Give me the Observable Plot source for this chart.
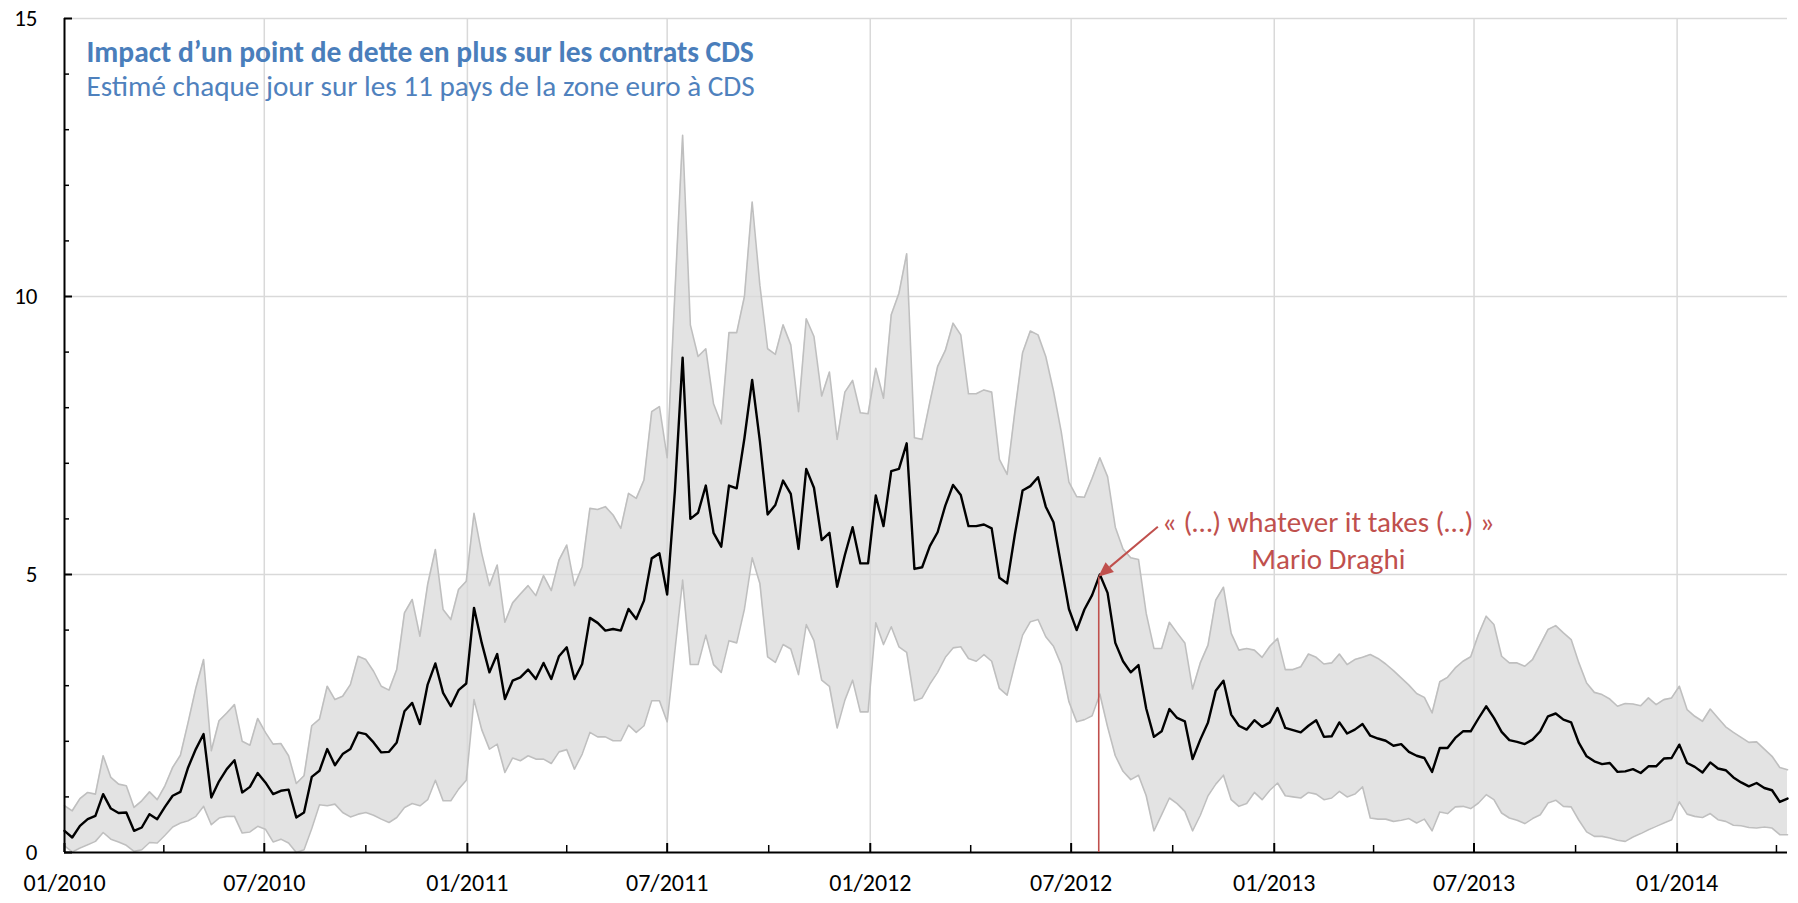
<!DOCTYPE html>
<html><head><meta charset="utf-8">
<script src="https://cdn.jsdelivr.net/npm/d3@7"></script>
<script src="https://cdn.jsdelivr.net/npm/@observablehq/plot@0.6"></script>
<style>body{margin:0;background:#fff}#chart svg{display:block}</style>
</head><body><div id="chart"></div>
<script>
// Weekly observations starting on this date (one value every 7 days)
const firstWeek = "2010-01-01";
const median = [0.39,0.27,0.48,0.60,0.66,1.05,0.79,0.71,0.72,0.39,0.45,0.69,0.60,0.82,1.02,1.09,1.53,1.86,2.13,0.99,
1.28,1.50,1.66,1.08,1.18,1.43,1.26,1.05,1.11,1.13,0.63,0.72,1.36,1.47,1.86,1.57,1.77,1.86,2.16,2.13,
1.98,1.80,1.81,1.98,2.54,2.69,2.31,3.02,3.40,2.87,2.63,2.92,3.04,4.40,3.77,3.24,3.57,2.76,3.09,3.15,
3.29,3.12,3.41,3.12,3.53,3.69,3.12,3.39,4.22,4.13,3.99,4.02,3.99,4.38,4.20,4.53,5.29,5.38,4.64,6.50,
8.90,6.00,6.11,6.60,5.75,5.50,6.60,6.55,7.45,8.50,7.40,6.08,6.25,6.69,6.45,5.46,6.90,6.56,5.62,5.75,
4.78,5.35,5.85,5.20,5.20,6.42,5.87,6.86,6.90,7.36,5.10,5.13,5.51,5.76,6.24,6.61,6.43,5.87,5.87,5.90,
5.83,4.94,4.84,5.72,6.51,6.59,6.75,6.22,5.94,5.16,4.38,4.00,4.37,4.63,5.00,4.67,3.77,3.44,3.24,3.37,
2.59,2.08,2.18,2.58,2.42,2.36,1.68,2.03,2.34,2.91,3.09,2.48,2.28,2.21,2.38,2.26,2.34,2.60,2.24,2.20,
2.16,2.28,2.38,2.08,2.09,2.34,2.14,2.21,2.31,2.10,2.05,2.01,1.92,1.95,1.81,1.74,1.70,1.45,1.88,1.88,
2.06,2.18,2.18,2.41,2.63,2.42,2.17,2.02,1.99,1.95,2.03,2.18,2.45,2.50,2.39,2.34,1.97,1.73,1.64,1.59,
1.61,1.45,1.46,1.50,1.43,1.55,1.55,1.69,1.70,1.94,1.61,1.54,1.44,1.62,1.51,1.48,1.35,1.26,1.19,1.25,
1.16,1.12,0.91,0.97];
const upper = [0.84,0.75,0.97,1.08,1.05,1.74,1.35,1.23,1.20,0.81,0.93,1.09,0.95,1.20,1.53,1.75,2.34,2.96,3.47,1.83,
2.37,2.51,2.66,2.00,1.93,2.41,2.16,1.95,1.96,1.74,1.24,1.38,2.28,2.40,2.99,2.75,2.81,3.02,3.53,3.47,
3.26,2.99,2.92,3.29,4.31,4.55,3.89,4.82,5.45,4.37,4.19,4.73,4.88,6.10,5.38,4.80,5.17,4.14,4.49,4.65,
4.80,4.62,4.98,4.71,5.26,5.53,4.80,5.14,6.19,6.17,6.22,6.07,5.83,6.46,6.37,6.70,7.93,8.02,7.10,10.06,
12.90,9.49,8.92,9.06,8.07,7.71,9.35,9.35,10.00,11.70,10.20,9.06,8.96,9.49,9.13,7.93,9.60,9.28,8.21,8.64,
7.43,8.28,8.49,7.91,7.89,8.71,8.17,9.67,10.06,10.77,7.46,7.43,8.10,8.74,9.03,9.52,9.31,8.25,8.25,8.32,
8.28,7.07,6.80,7.93,8.99,9.38,9.31,8.92,8.30,7.57,6.66,6.40,6.39,6.73,7.10,6.76,5.85,5.46,5.30,5.27,
4.30,3.67,3.67,4.14,3.95,3.77,2.94,3.41,3.73,4.54,4.77,3.94,3.64,3.67,3.64,3.51,3.71,3.85,3.29,3.29,
3.34,3.57,3.51,3.39,3.41,3.57,3.38,3.47,3.51,3.56,3.49,3.39,3.27,3.14,3.01,2.86,2.79,2.51,3.07,3.15,
3.32,3.44,3.52,3.92,4.25,4.10,3.53,3.41,3.41,3.35,3.47,3.74,4.01,4.08,3.95,3.83,3.41,3.05,2.88,2.84,
2.76,2.63,2.68,2.67,2.64,2.78,2.66,2.75,2.78,2.99,2.57,2.45,2.36,2.58,2.42,2.26,2.16,2.07,1.98,1.99,
1.86,1.73,1.53,1.49];
const lower = [0.12,0.01,0.08,0.14,0.20,0.36,0.24,0.19,0.13,0.02,0.05,0.18,0.17,0.31,0.46,0.53,0.57,0.65,0.83,0.50,
0.62,0.65,0.65,0.35,0.37,0.47,0.42,0.19,0.24,0.17,0.00,0.05,0.43,0.86,0.84,0.87,0.72,0.64,0.69,0.72,
0.67,0.60,0.54,0.63,0.81,0.88,0.84,0.95,1.30,0.93,0.93,1.14,1.30,2.75,2.21,1.86,1.95,1.44,1.70,1.65,
1.74,1.68,1.68,1.60,1.81,1.85,1.50,1.77,2.16,2.08,2.08,2.01,2.01,2.29,2.16,2.28,2.73,2.73,2.35,3.63,
4.90,3.38,3.38,3.91,3.38,3.24,3.81,3.77,4.38,5.30,4.84,3.52,3.42,3.74,3.66,3.20,4.10,3.81,3.10,2.99,
2.24,2.74,3.10,2.53,2.53,4.13,3.74,4.06,3.70,3.60,2.73,2.78,3.03,3.24,3.51,3.68,3.70,3.49,3.44,3.56,
3.44,2.95,2.83,3.39,3.91,4.15,4.19,3.88,3.71,3.38,2.71,2.35,2.39,2.46,2.85,2.26,1.74,1.46,1.31,1.39,
1.02,0.39,0.68,0.98,0.88,0.74,0.39,0.67,1.02,1.23,1.39,0.95,0.83,0.88,1.08,0.95,1.12,1.25,1.02,1.00,
0.98,1.08,1.05,0.95,0.98,1.10,1.00,1.05,1.18,0.62,0.60,0.60,0.56,0.58,0.61,0.53,0.60,0.39,0.73,0.70,
0.82,0.83,0.79,0.89,1.04,0.95,0.71,0.62,0.58,0.52,0.61,0.68,0.89,0.94,0.83,0.82,0.58,0.37,0.29,0.29,
0.26,0.22,0.20,0.28,0.34,0.41,0.47,0.53,0.59,0.91,0.69,0.65,0.63,0.70,0.59,0.56,0.49,0.48,0.45,0.44,
0.46,0.44,0.32,0.32];

const xDomain = ["2010-01-01", "2014-04-11"];
const yDomain = [0, 15];
const xLabelTicks = ["2010-01-01","2010-07-01","2011-01-01","2011-07-01","2012-01-01","2012-07-01","2013-01-01","2013-07-01","2014-01-01"];
const xMinorTicks = ["2010-04-01","2010-10-01","2011-04-01","2011-10-01","2012-04-01","2012-10-01","2013-04-01","2013-10-01","2014-04-01"];
const yLabelTicks = [0, 5, 10, 15];
const yMinorTicks = [1,2,3,4,6,7,8,9,11,12,13,14];
const yGrid = [5, 10, 15];

const title = "Impact d’un point de dette en plus sur les contrats CDS";
const subtitle = "Estimé chaque jour sur les 11 pays de la zone euro à CDS";
const noteLines = "« (…) whatever it takes (…) »\nMario Draghi";
const draghi = {date: "2012-07-26", v: 4.95};
const arrowFrom = {date: "2012-09-18", v: 5.85};
const notePos = {date: "2013-02-19", v: 5.64};

const D = s => new Date(s + "T00:00:00Z");
const t0 = D(firstWeek).getTime();
const rows = median.map((m, i) => ({date: new Date(t0 + i * 7 * 864e5), med: m, hi: upper[i], lo: lower[i]}));
const red = "#c0504d";
const font = "Carlito, Lato, sans-serif";

const arrowMark = (index, scales) => {
  const x1 = scales.x(D(arrowFrom.date)), y1 = scales.y(arrowFrom.v);
  const x2 = scales.x(D(draghi.date)), y2 = scales.y(draghi.v);
  const L = Math.hypot(x2 - x1, y2 - y1), ux = (x2 - x1) / L, uy = (y2 - y1) / L;
  const hl = 15, hw = 6.5;
  const bx = x2 - ux * hl, by = y2 - uy * hl;
  const g = d3.create("svg:g");
  g.append("line").attr("x1", x1).attr("y1", y1).attr("x2", bx).attr("y2", by)
    .attr("stroke", red).attr("stroke-width", 2);
  g.append("path").attr("d", `M${x2},${y2}L${bx - uy * hw},${by + ux * hw}L${bx + uy * hw},${by - ux * hw}Z`)
    .attr("fill", red);
  return g.node();
};

const chart = Plot.plot({
  width: 1798, height: 903,
  marginLeft: 64, marginRight: 11, marginTop: 18, marginBottom: 51,
  style: {fontFamily: font, fontSize: "24px", background: "#fff", color: "#000"},
  x: {type: "utc", domain: xDomain.map(D)},
  y: {domain: yDomain},
  marks: [
    Plot.areaY(rows, {x: "date", y1: "lo", y2: "hi", fill: "#e3e3e3", curve: "linear"}),
    Plot.gridY(yGrid, {stroke: "#d9d9d9", strokeOpacity: 1, strokeWidth: 1.5}),
    Plot.gridX(xLabelTicks.slice(1).map(D), {stroke: "#d9d9d9", strokeOpacity: 1, strokeWidth: 1.5}),
    Plot.lineY(rows, {x: "date", y: "hi", stroke: "#bfbfbf", strokeWidth: 1.6}),
    Plot.lineY(rows, {x: "date", y: "lo", stroke: "#bfbfbf", strokeWidth: 1.6}),
    Plot.lineY(rows, {x: "date", y: "med", stroke: "#000", strokeWidth: 2.4}),
    Plot.ruleY([0], {stroke: "#000", strokeWidth: 2}),
    Plot.ruleX([D(xDomain[0])], {y1: 0, y2: 15, stroke: "#000", strokeWidth: 2}),
    Plot.axisX({ticks: xLabelTicks.map(D), tickSize: -9, fill: "none", strokeWidth: 2, label: null}),
    Plot.axisX({ticks: xMinorTicks.map(D), tickSize: -7, fill: "none", strokeWidth: 1.5, label: null}),
    Plot.axisX({ticks: xLabelTicks.map(D), tickSize: 0, tickPadding: 21, tickFormat: d3.utcFormat("%m/%Y"), label: null, fontSize: 24}),
    Plot.axisY({ticks: yLabelTicks, tickSize: -8, fill: "none", strokeWidth: 2, label: null}),
    Plot.axisY({ticks: yMinorTicks, tickSize: -5, fill: "none", strokeWidth: 1.5, label: null}),
    Plot.axisY({ticks: yLabelTicks, tickSize: 0, tickPadding: 27, label: null, fontSize: 23}),
    Plot.ruleX([draghi], {x: d => D(d.date), y1: 0, y2: "v", stroke: red, strokeWidth: 1.6}),
    arrowMark,
    Plot.text([noteLines], {x: D(notePos.date), y: notePos.v, text: d => d, fill: red, fontSize: 29, lineHeight: 1.28, textAnchor: "middle"}),
    Plot.text([title], {frameAnchor: "top-left", dx: 22, dy: 34, text: d => d, fill: "#4a7ebb", fontWeight: "bold", fontSize: 29.5, textAnchor: "start", lineAnchor: "middle"}),
    Plot.text([subtitle], {frameAnchor: "top-left", dx: 22, dy: 68, text: d => d, fill: "#4f81bd", fontSize: 29.2, textAnchor: "start", lineAnchor: "middle"})
  ]
});
document.getElementById("chart").append(chart);
</script></body></html>
